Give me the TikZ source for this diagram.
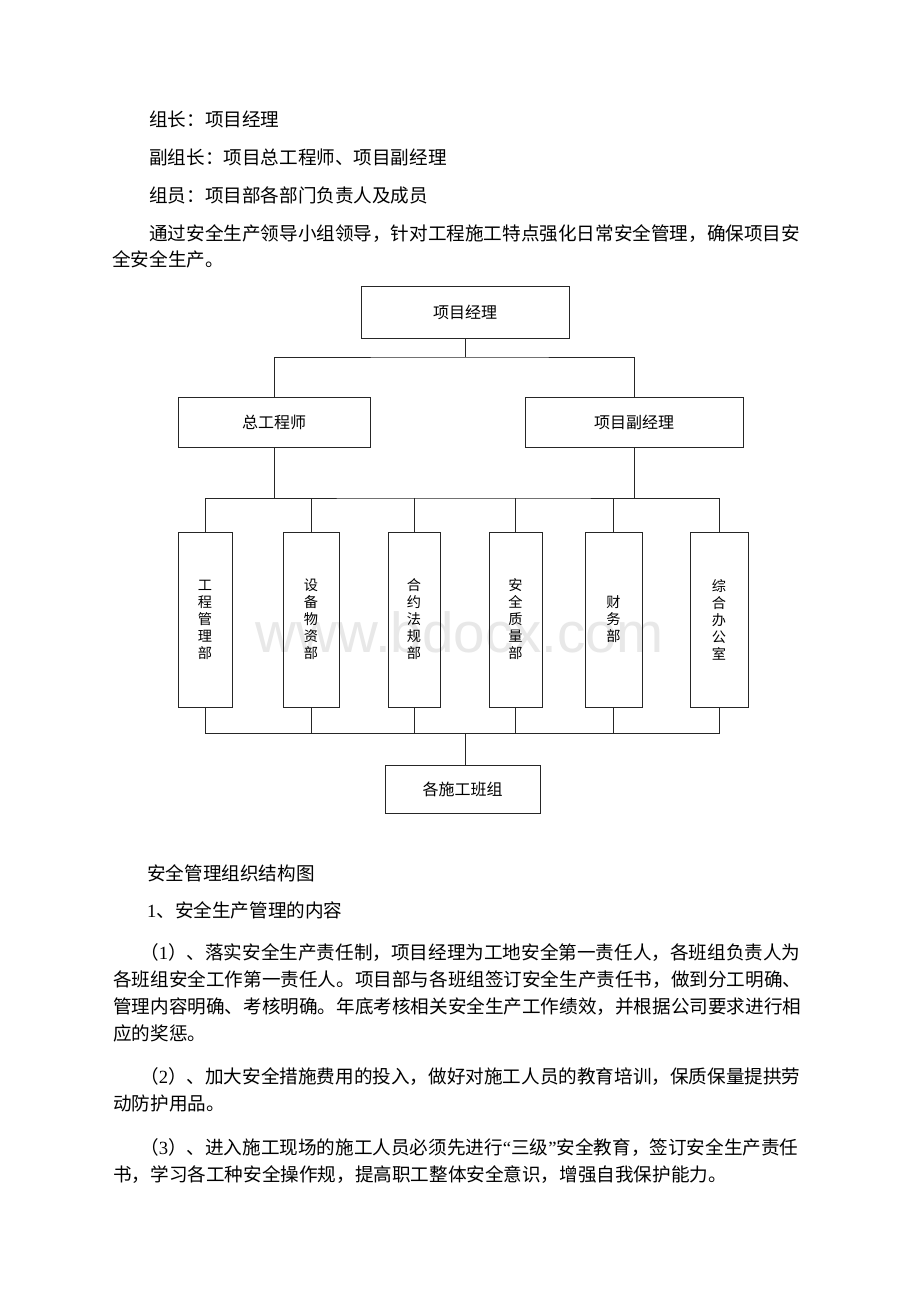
\documentclass[tikz,border=0pt]{standalone}
\usepackage{fontspec}
\newfontfamily\cjk{Noto Sans CJK SC}
\newfontfamily\wmfont{Liberation Sans}
\newfontfamily\lat{Liberation Serif}
\begin{document}
\begin{tikzpicture}[x=1pt,y=-1pt,
  line/.style={draw=black!85,line width=0.9pt},
  body/.style={anchor=west,inner sep=0pt,text height=0.88em,text depth=0.12em,font=\cjk\fontsize{18.6}{22}\selectfont,text=black},
  hbox/.style={draw=black!85,line width=0.9pt,inner sep=0pt,align=center,font=\cjk\fontsize{16}{18}\selectfont},
  vbox/.style={draw=black!85,line width=0.9pt,inner sep=0pt,align=center,minimum height=175pt,font=\cjk\fontsize{14.2}{17}\selectfont}
]
\useasboundingbox[fill=white] (0,0) rectangle (920,1302);

% watermark
\node[anchor=base,inner sep=0pt,text=black!9,font=\wmfont\fontsize{56.5}{60}\selectfont] (wm) at (460,652) {www.bdocx.com};

% text above
\node[body] (t1) at (149,123) {组长：项目经理};
\node[body] (t2) at (149,161) {副组长：项目总工程师、项目副经理};
\node[body] (t3) at (149,199) {组员：项目部各部门负责人及成员};
\node[body] (t4) at (149,237) {通过安全生产领导小组领导，针对工程施工特点强化日常安全管理，确保项目安};
\node[body] (t5) at (112,263) {全安全生产。};

% chart
\node[hbox,minimum width=208pt,minimum height=52pt] (top) at (465,312) {项目经理};
\node[hbox,minimum width=192pt,minimum height=50pt] (zg) at (274,422) {总工程师};
\node[hbox,minimum width=218pt,minimum height=50pt] (fj) at (634,422) {项目副经理};

\node[vbox,minimum width=54pt] (d1) at (205,619.5) {工\\程\\管\\理\\部};
\node[vbox,minimum width=56pt] (d2) at (311,619.5) {设\\备\\物\\资\\部};
\node[vbox,minimum width=52pt] (d3) at (414,619.5) {合\\约\\法\\规\\部};
\node[vbox,minimum width=53pt] (d4) at (515.5,619.5) {安\\全\\质\\量\\部};
\node[vbox,minimum width=57pt] (d5) at (613.5,619.5) {财\\务\\部};
\node[vbox,minimum width=58pt] (d6) at (719,619.5) {综\\合\\办\\公\\室};

\node[hbox,minimum width=155pt,minimum height=48pt] (bt) at (462.5,789) {各施工班组};

\coordinate (j1) at (465,357);
\coordinate (j2) at (465,498);
\coordinate (j3) at (465,733);

\draw[line] (top.south) -- (j1);
\draw[line] (zg.north) |- (j1) -| (fj.north);
\draw[line] (zg.south) -- (zg.south |- j2);
\draw[line] (fj.south) -- (fj.south |- j2);
\draw[line] (d1.north) |- (j2) -| (d6.north);
\foreach \d in {d2,d3,d4,d5} {\draw[line] (\d.north) -- (\d.north |- j2);}
\draw[line] (d1.south) |- (j3) -| (d6.south);
\foreach \d in {d2,d3,d4,d5} {\draw[line] (\d.south) -- (\d.south |- j3);}
\draw[line] (j3) -- (j3 |- bt.north);

% text below
\node[body] (c1) at (147,877) {安全管理组织结构图};
\node[body] (c2) at (147,914) {{\lat 1}、安全生产管理的内容};
\node[body] (p1a) at (140,956) {（{\lat 1}）、落实安全生产责任制，项目经理为工地安全第一责任人，各班组负责人为};
\node[body] (p1b) at (113,983) {各班组安全工作第一责任人。项目部与各班组签订安全生产责任书，做到分工明确、};
\node[body] (p1c) at (113,1010) {管理内容明确、考核明确。年底考核相关安全生产工作绩效，并根据公司要求进行相};
\node[body] (p1d) at (113,1037) {应的奖惩。};
\node[body] (p2a) at (140,1080) {（{\lat 2}）、加大安全措施费用的投入，做好对施工人员的教育培训，保质保量提拱劳};
\node[body] (p2b) at (113,1107) {动防护用品。};
\node[body] (p3a) at (140,1151) {（{\lat 3}）、进入施工现场的施工人员必须先进行{\lat “}三级{\lat ”}安全教育，签订安全生产责任};
\node[body] (p3b) at (113,1178) {书，学习各工种安全操作规，提高职工整体安全意识，增强自我保护能力。};
\end{tikzpicture}
\end{document}
